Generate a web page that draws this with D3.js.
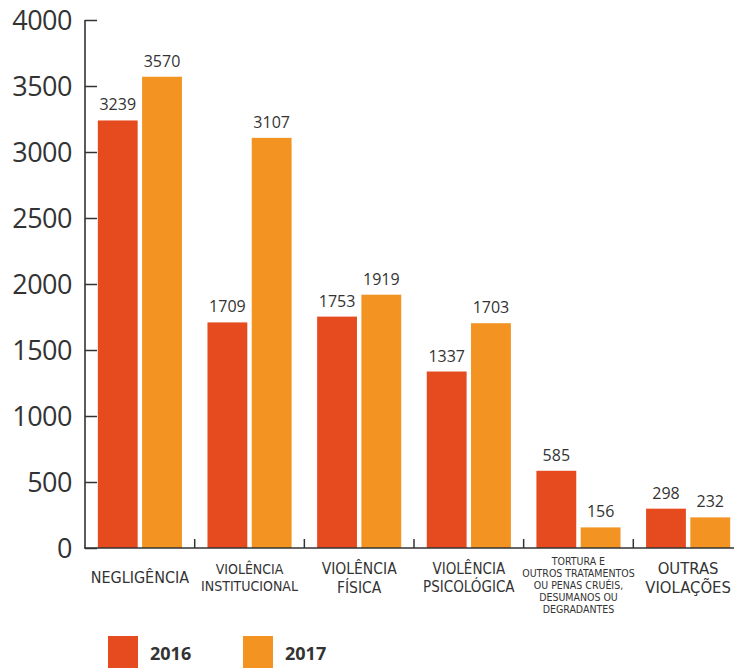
<!DOCTYPE html>
<html>
<head>
<meta charset="utf-8">
<script src="https://cdn.jsdelivr.net/npm/d3@7"></script>
<style>
  body { margin: 0; background: #fff; }
  svg text { fill: #333; }
</style>
</head>
<body>
<div id="chart"></div>
<script>
// ----- DATA -----
const categories = ["NEGLIGÊNCIA", "VIOLÊNCIA INSTITUCIONAL", "VIOLÊNCIA FÍSICA", "VIOLÊNCIA PSICOLÓGICA", "TORTURA", "OUTRAS VIOLAÇÕES"];
const years = ["2016", "2017"];
const values2016 = [3239, 1709, 1753, 1337, 585, 298];
const values2017 = [3570, 3107, 1919, 1703, 156, 232];
const yTicks = [0, 500, 1000, 1500, 2000, 2500, 3000, 3500, 4000];

// category label lines, font size per label
const catLines = [
    {lines: ["NEGLIGÊNCIA"], size: 16, dy: 0},
    {lines: ["VIOLÊNCIA", "INSTITUCIONAL"], size: 14, dy: 17},
    {lines: ["VIOLÊNCIA", "FÍSICA"], size: 15.5, dy: 19},
    {lines: ["VIOLÊNCIA", "PSICOLÓGICA"], size: 15, dy: 18},
    {lines: ["TORTURA E", "OUTROS TRATAMENTOS", "OU PENAS CRUÉIS,", "DESUMANOS OU", "DEGRADANTES"], size: 10.5, dy: 12},
    {lines: ["OUTRAS", "VIOLAÇÕES"], size: 16.5, dy: 19}
];

const colors = {"2016": "#e64b1f", "2017": "#f29322"};

const width = 734, height = 671;
const mLeft = 85, mTop = 20, mBottom = 548;

const svg = d3.select("#chart").append("svg")
    .attr("width", width)
    .attr("height", height);

const x0 = d3.scaleBand().domain(categories).range([mLeft, 743])
    .paddingInner(0.233).paddingOuter(0.117);
const x1 = d3.scaleBand().domain(years).range([0, x0.bandwidth()]).paddingInner(0.1);
const y = d3.scaleLinear().domain([0, 4000]).range([mBottom, mTop]);

const rows = categories.map((c, i) => ({cat: c, vals: [
    {year: "2016", v: values2016[i]},
    {year: "2017", v: values2017[i]}
]}));

// BARS
const grp = svg.selectAll(".grp").data(rows).enter().append("g")
    .attr("transform", d => `translate(${x0(d.cat)},0)`);

grp.selectAll("rect").data(d => d.vals).enter().append("rect")
    .attr("x", d => x1(d.year))
    .attr("y", d => y(d.v))
    .attr("width", x1.bandwidth())
    .attr("height", d => mBottom - y(d.v))
    .attr("fill", d => colors[d.year]);

grp.selectAll(".val").data(d => d.vals).enter().append("text")
    .attr("x", d => x1(d.year) + x1.bandwidth() / 2)
    .attr("y", d => y(d.v) - 10)
    .attr("text-anchor", "middle")
    .style("font-family", "'Open Sans', sans-serif")
    .style("font-size", "16px")
    .text(d => d.v);

// Y AXIS
const yAxis = d3.axisRight(y).tickValues(yTicks).tickSize(12).tickFormat("");
const ya = svg.append("g").attr("transform", `translate(${mLeft},0)`).call(yAxis);
ya.select(".domain").remove();
ya.selectAll("line").attr("stroke", "#333").attr("stroke-width", 1.5);
svg.append("line")
    .attr("x1", mLeft).attr("x2", mLeft)
    .attr("y1", y(4000)).attr("y2", mBottom)
    .attr("stroke", "#333").attr("stroke-width", 1.6);

svg.selectAll(".ytick").data(yTicks).enter().append("text")
    .attr("x", 72)
    .attr("y", d => y(d) + 10)
    .attr("text-anchor", "end")
    .style("font-family", "'Open Sans', sans-serif")
    .style("font-size", "27px")
    .style("letter-spacing", "-0.5px")
    .text(d => d);

// X AXIS
svg.append("line")
    .attr("x1", mLeft - 1).attr("x2", width)
    .attr("y1", mBottom).attr("y2", mBottom)
    .attr("stroke", "#333").attr("stroke-width", 1.6);

const step = x0.step();
svg.selectAll(".xtick").data(categories.slice(1)).enter().append("line")
    .attr("x1", d => x0(d) - (step - x0.bandwidth()) / 2)
    .attr("x2", d => x0(d) - (step - x0.bandwidth()) / 2)
    .attr("y1", mBottom).attr("y2", mBottom - 9)
    .attr("stroke", "#333").attr("stroke-width", 1.5);

// category labels
catLines.forEach((c, i) => {
    const cx = x0(categories[i]) + x0.bandwidth() / 2;
    const n = c.lines.length;
    const y0 = i === 4 ? 565 : (n === 1 ? 583 : 574);
    const t = svg.append("text")
        .attr("text-anchor", "middle")
        .style("font-family", "'Liberation Sans Narrow', 'DejaVu Sans Condensed', sans-serif")
        .style("font-size", c.size + "px")
        .style("fill", "#333");
    c.lines.forEach((ln, j) => {
        t.append("tspan").attr("x", cx).attr("y", y0 + j * c.dy).text(ln);
    });
});

// LEGEND
const legend = svg.selectAll(".leg").data(years).enter().append("g")
    .attr("transform", (d, i) => `translate(${108 + i * 135},636)`);
legend.append("rect")
    .attr("width", 30).attr("height", 32)
    .attr("fill", d => colors[d]);
legend.append("text")
    .attr("x", 42).attr("y", 24)
    .style("font-family", "'Open Sans', sans-serif")
    .style("font-size", "18px")
    .style("font-weight", "bold")
    .text(d => d);
</script>
</body>
</html>
